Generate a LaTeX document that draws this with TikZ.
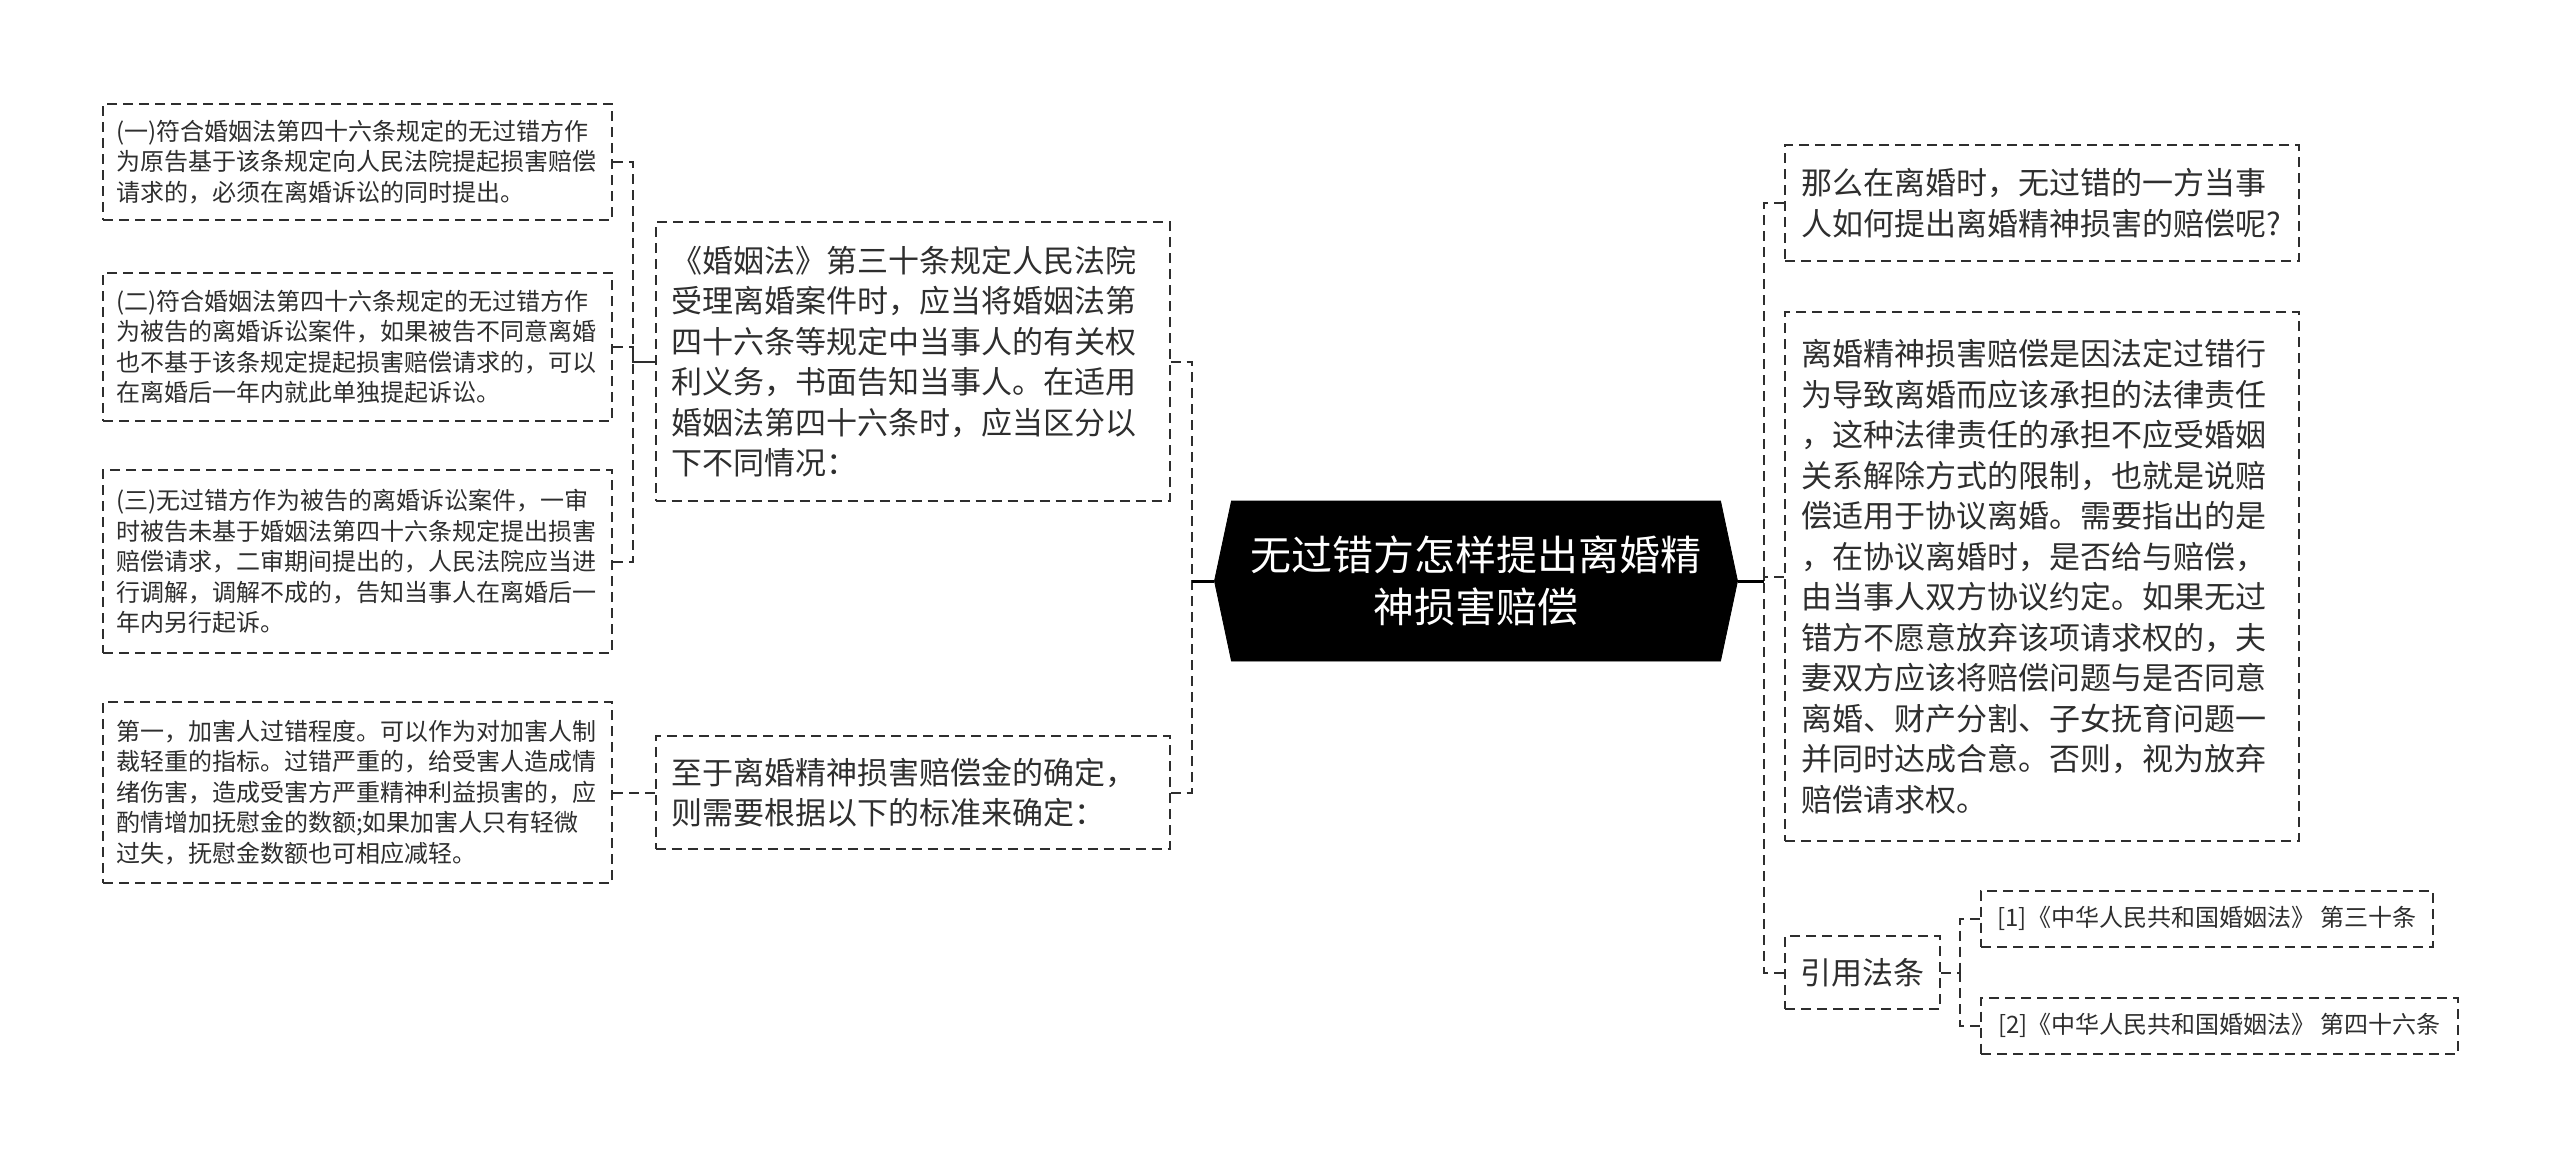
\documentclass[tikz,border=0pt]{standalone}
\usepackage{fontspec}
\setmainfont{Noto Sans CJK SC}
\usetikzlibrary{shapes.symbols}
\definecolor{inkc}{HTML}{2E2E2E}
\begin{document}
\begin{tikzpicture}[x=0.5pt,y=-0.5pt,
    box/.style={draw=inkc,text=inkc,line width=1pt,dash pattern=on 5pt off 3pt,align=left,inner ysep=0pt},
    leaf/.style={box,inner xsep=6.5pt,text width=241.5pt,minimum height=#1,font=\fontsize{12}{15.25}\selectfont},
    mid/.style={box,inner xsep=8pt,text width=241pt,minimum height=#1,font=\fontsize{15.5}{20.25}\selectfont},
    tag/.style={box,inner xsep=0pt,minimum width=#1,minimum height=28pt,font=\fontsize{12}{15}\selectfont},
    link/.style={draw=inkc,line width=1pt,dash pattern=on 5pt off 3pt},
    trunk/.style={draw=black,line width=1.5pt}]
    \useasboundingbox (0,0) rectangle (2560,1158);
    \node[signal,signal to=west and east,signal pointer angle=156,fill=black,draw=black,
        minimum width=261.5pt,minimum height=80pt,inner sep=0pt,text=white,align=center,
        font=\fontsize{20.5}{26}\selectfont] (root) at (1476,581) {无过错方怎样提出离婚精\\神损害赔偿};
    \node[mid=139.5pt] (law30) at (912.5,361.5) {《婚姻法》第三十条规定人民法院\\受理离婚案件时，应当将婚姻法第\\四十六条等规定中当事人的有关权\\利义务，书面告知当事人。在适用\\婚姻法第四十六条时，应当区分以\\下不同情况：};
    \node[mid=56.5pt] (std) at (912.5,792.5) {至于离婚精神损害赔偿金的确定，\\则需要根据以下的标准来确定：};
    \node[leaf=58pt] (leaf1) at (357.5,162) {(一)符合婚姻法第四十六条规定的无过错方作\\为原告基于该条规定向人民法院提起损害赔偿\\请求的，必须在离婚诉讼的同时提出。};
    \node[leaf=74pt] (leaf2) at (357.5,347) {(二)符合婚姻法第四十六条规定的无过错方作\\为被告的离婚诉讼案件，如果被告不同意离婚\\也不基于该条规定提起损害赔偿请求的，可以\\在离婚后一年内就此单独提起诉讼。};
    \node[leaf=91.5pt] (leaf3) at (357.5,561.5) {(三)无过错方作为被告的离婚诉讼案件，一审\\时被告未基于婚姻法第四十六条规定提出损害\\赔偿请求，二审期间提出的，人民法院应当进\\行调解，调解不成的，告知当事人在离婚后一\\年内另行起诉。};
    \node[leaf=90.5pt] (leaf4) at (357.5,792.5) {第一，加害人过错程度。可以作为对加害人制\\裁轻重的指标。过错严重的，给受害人造成情\\绪伤害，造成受害方严重精神利益损害的，应\\酌情增加抚慰金的数额;如果加害人只有轻微\\过失，抚慰金数额也可相应减轻。};
    \node[mid=58pt] (ask) at (2042,203) {那么在离婚时，无过错的一方当事\\人如何提出离婚精神损害的赔偿呢?};
    \node[mid=264.5pt] (duty) at (2042,576.5) {离婚精神损害赔偿是因法定过错行\\为导致离婚而应该承担的法律责任\\，这种法律责任的承担不应受婚姻\\关系解除方式的限制，也就是说赔\\偿适用于协议离婚。需要指出的是\\，在协议离婚时，是否给与赔偿，\\由当事人双方协议约定。如果无过\\错方不愿意放弃该项请求权的，夫\\妻双方应该将赔偿问题与是否同意\\离婚、财产分割、子女抚育问题一\\并同时达成合意。否则，视为放弃\\赔偿请求权。};
    \node[box,inner xsep=0pt,minimum width=77.5pt,minimum height=36.5pt,font=\fontsize{15.5}{19}\selectfont] (cite) at (1862.5,972.5) {引用法条};
    \node[tag=226pt] (ref1) at (2207,918.5) {[1]《中华人民共和国婚姻法》 第三十条};
    \node[tag=238.5pt] (ref2) at (2219.5,1025.5) {[2]《中华人民共和国婚姻法》 第四十六条};
    \coordinate (jl) at (633,361.5);
    \coordinate (jm) at (1192,581);
    \coordinate (jr) at (1764,581);
    \coordinate (jc) at (1960,972.5);
    \foreach \n in {leaf1,leaf2,leaf3}
        \draw[link] (\n.east) -| (jl) -- (law30.west);
    \draw[link] (leaf4.east) -- (std.west);
    \foreach \n in {law30,std}
        \draw[link] (\n.east) -| (jm);
    \draw[trunk] (jm) -- (root.west);
    \foreach \n in {ask,duty,cite}
        \draw[link] (\n.west) -| (jr);
    \draw[trunk] (root.east) -- (jr);
    \draw[link] (cite.east) -- (jc);
    \foreach \n in {ref1,ref2}
        \draw[link] (\n.west) -| (jc);
\end{tikzpicture}
\end{document}
